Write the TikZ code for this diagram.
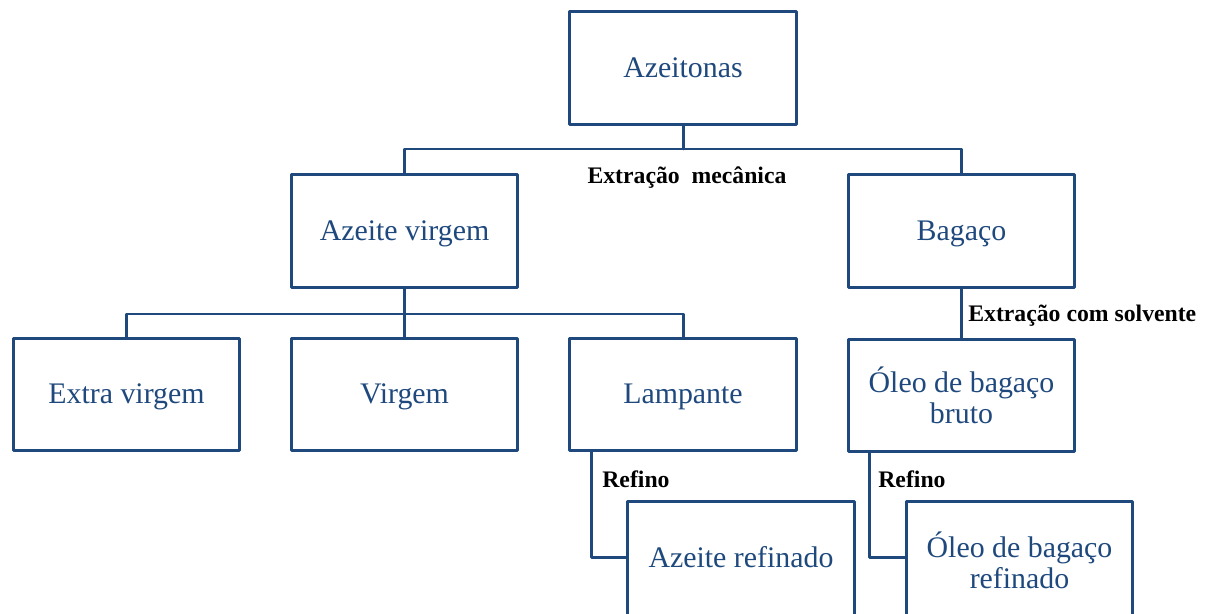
\documentclass[tikz,border=0pt]{standalone}
\usepackage{fontspec}
\setmainfont{Liberation Serif}
\definecolor{navy}{RGB}{31,73,125}
\tikzset{
  box/.style={draw=navy, line width=1.7pt, text=navy, minimum width=4.54cm, minimum height=2.26cm,
    inner sep=0pt, font=\fontsize{17}{17.5}\selectfont},
  one/.style={box, text height=12pt, text depth=1.2pt},
  two/.style={box, align=center},
  tall/.style={minimum height=2.36cm},
  lbl/.style={font=\bfseries\fontsize{13.5}{15}\selectfont, inner sep=0pt},
  link/.style={draw=navy, line width=1.7pt}
}
\begin{document}
\begin{tikzpicture}[line cap=round,line join=round,x=0.02cm,y=-0.02cm]
        \clip (0,0) rectangle (1210,614);
        \node[one] (az) at (683,68) {Azeitonas};
        \node[one] (av) at (404.5,231) {Azeite virgem};
        \node[one] (bg) at (961.5,231) {Bagaço};
        \node[one] (ev) at (126.5,394.5) {Extra virgem};
        \node[one] (vg) at (404.5,394.5) {Virgem};
        \node[one] (lp) at (683,394.5) {Lampante};
        \node[two] (ob) at (961.5,395.5) {Óleo de bagaço\\bruto};
        \node[one,tall,text depth=4.6pt] (ar) at (741,560.5) {Azeite refinado};
        \node[two,tall] (orf) at (1019.5,560.5) {Óleo de bagaço\\refinado};
        \coordinate (j1) at (683,149);
        \coordinate (j2) at (404.5,314);
        \draw[link] (az.south) -- (j1);
        \draw[link] (av.north) |- (j1) -| (bg.north);
        \draw[link] (av.south) -- (j2);
        \draw[link] (ev.north) |- (j2) -| (lp.north);
        \draw[link] (j2) -- (vg.north);
        \draw[link] (bg.south) -- (ob.north);
        \draw[link] ([xshift=0.46cm]lp.south west) |- ([yshift=0.06cm]ar.west);
        \draw[link] ([xshift=0.46cm]ob.south west) |- ([yshift=0.06cm]orf.west);
        \node[lbl] (em) at (687,178) {Extração\ \ mecânica};
        \node[lbl,anchor=west] (es) at (968,316) {Extração com solvente};
        \node[lbl,anchor=west] (r1) at (602,479) {Refino};
        \node[lbl,anchor=west] (r2) at (878,479) {Refino};
\end{tikzpicture}
\end{document}
